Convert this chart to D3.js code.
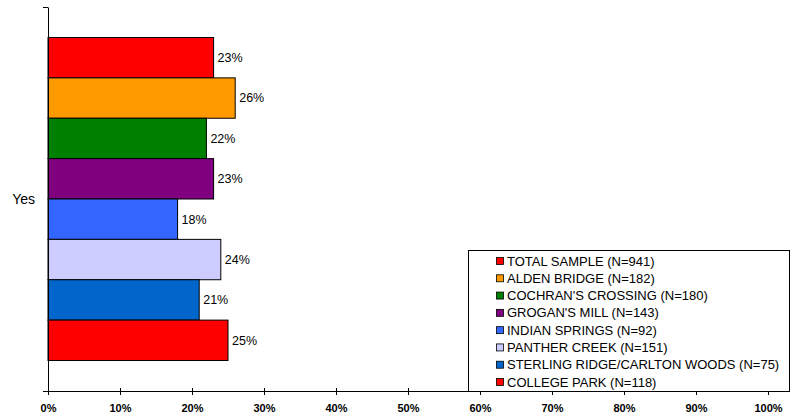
<!DOCTYPE html>
<html><head><meta charset="utf-8">
<script src="https://cdn.jsdelivr.net/npm/d3@7"></script>
<style>body{margin:0;background:#fff}svg{display:block}text{font-family:"Liberation Sans",Arial,sans-serif}</style>
</head><body><svg id="c" width="791" height="419"></svg>
<script>
const category = ["Yes"];
const series = ["TOTAL SAMPLE (N=941)","ALDEN BRIDGE (N=182)","COCHRAN'S CROSSING (N=180)","GROGAN'S MILL (N=143)","INDIAN SPRINGS (N=92)","PANTHER CREEK (N=151)","STERLING RIDGE/CARLTON WOODS (N=75)","COLLEGE PARK (N=118)"];
const values = [23,26,22,23,18,24,21,25];
const colors = ["#FF0000","#FF9900","#008000","#800080","#3366FF","#CCCCFF","#0066CC","#FF0000"];
const ticks = [0,10,20,30,40,50,60,70,80,90,100];

const svg = d3.select("#c");
const L=48, R=768, T=7, B=391;
const x = d3.scaleLinear().domain([0,100]).range([L,R]);
const yCat = d3.scaleBand().domain(category).range([T,B]).paddingInner(0).paddingOuter(0.0945);
const ySer = d3.scaleBand().domain(series).range([yCat("Yes"), yCat("Yes")+yCat.bandwidth()]);

// bars
const g = svg.append("g");
g.selectAll("rect").data(series).join("rect")
  .attr("x", x(0)).attr("y", d=>ySer(d))
  .attr("width", (d,i)=>x(values[i])-x(0)).attr("height", ySer.bandwidth())
  .attr("fill",(d,i)=>colors[i]).attr("stroke","#000").attr("stroke-width",1);
g.selectAll("text.v").data(series).join("text").attr("class","v")
  .attr("x",(d,i)=>x(values[i])+4).attr("y",d=>ySer(d)+ySer.bandwidth()/2)
  .attr("dy","0.35em").attr("font-size",12.5).attr("fill","#000")
  .text((d,i)=>values[i]+"%");

// axes
const xa = svg.append("g").attr("transform",`translate(0,${B})`)
  .call(d3.axisBottom(x).tickValues(ticks).tickFormat(d=>d+"%").tickSize(4).tickSizeOuter(0));
xa.select(".domain").attr("stroke","#000");
xa.selectAll(".tick line").attr("y1",-3).attr("stroke","#000");
xa.selectAll("text").attr("font-size",11).attr("font-weight","bold").attr("fill","#000").attr("dy","1.3em")
  .style("font-family","'Liberation Sans',Arial,sans-serif");

const ya = svg.append("g").attr("transform",`translate(${L},0)`)
  .call(d3.axisLeft(d3.scaleLinear().domain([0,1]).range([B,T])).tickValues([0,1]).tickFormat("").tickSize(5).tickSizeOuter(0));
ya.select(".domain").attr("stroke","#000");
ya.selectAll(".tick line").attr("stroke","#000");
svg.append("text").attr("x",35).attr("y",yCat("Yes")+yCat.bandwidth()/2).attr("dy","0.35em")
  .attr("text-anchor","end").attr("font-size",14).text(category[0]);

// legend
const lg = svg.append("g");
lg.append("rect").attr("x",468.5).attr("y",250.5).attr("width",321).attr("height",141).attr("fill","#fff").attr("stroke","#000");
const ly = d3.scalePoint().domain(series).range([261,382]);
lg.selectAll("rect.s").data(series).join("rect").attr("class","s")
  .attr("x",496.5).attr("y",d=>ly(d)-3.5).attr("width",7).attr("height",7)
  .attr("fill",(d,i)=>colors[i]).attr("stroke","#000").attr("stroke-width",0.8);
lg.selectAll("text").data(series).join("text")
  .attr("x",507).attr("y",d=>ly(d)).attr("dy","0.35em").attr("font-size",13).text(d=>d);
</script></body></html>
